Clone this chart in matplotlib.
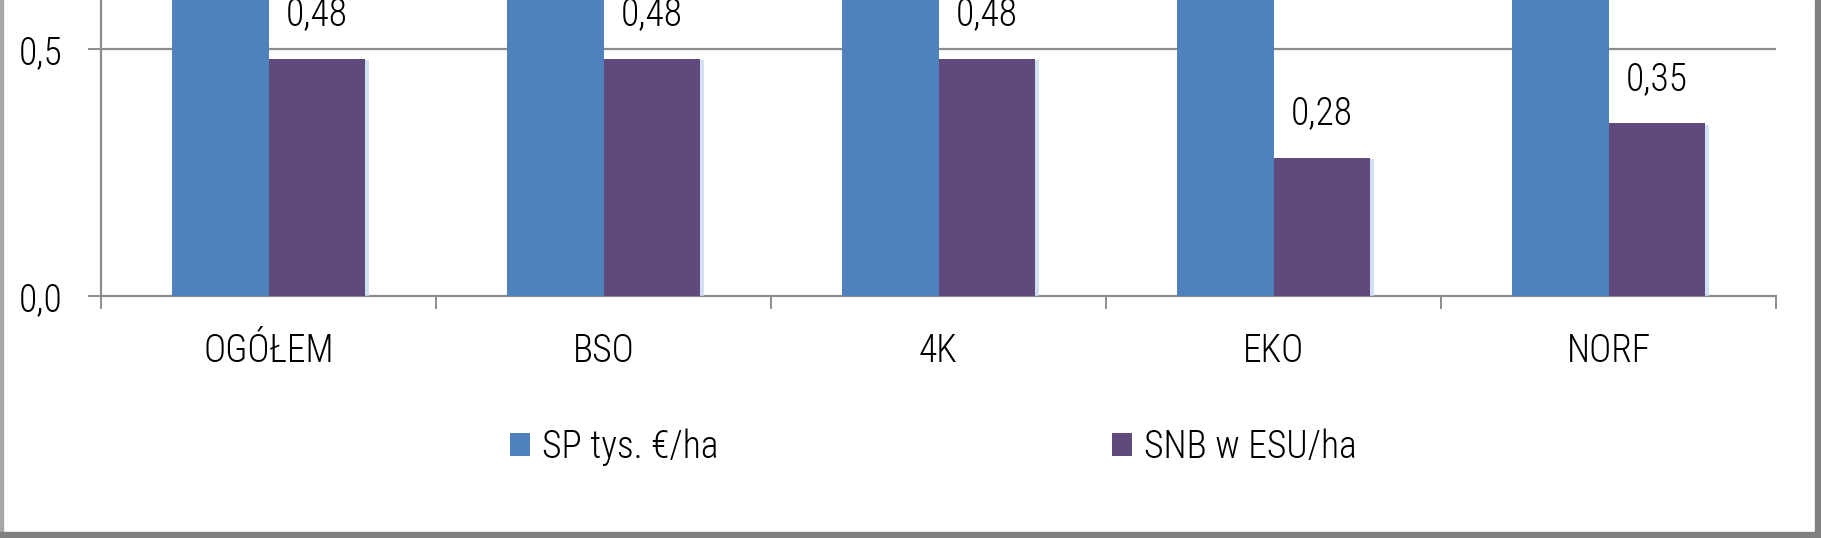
import numpy as np
import matplotlib
matplotlib.use("Agg")
import matplotlib.pyplot as plt
import matplotlib.patheffects as pe
from matplotlib.patches import Rectangle
from matplotlib import font_manager

# data (blue bars run past the top of the cropped picture, so their values are only rough)
categories = ["OGÓŁEM", "BSO", "4K", "EKO", "NORF"]
sp_values = [1.2, 1.2, 1.2, 1.2, 1.2]       # SP tys. €/ha  (cut off)
snb_values = [0.48, 0.48, 0.48, 0.28, 0.35]  # SNB w ESU/ha
series_names = ["SP tys. €/ha", "SNB w ESU/ha"]
y_ticks = [0.0, 0.5]

# pick a narrow face if one is around
fonts = font_manager.fontManager.ttflist
names = {f.name for f in fonts}
stretch = "normal"
fam = "Liberation Sans"
for cand in ["Liberation Sans Narrow", "Arial Narrow", "Roboto Condensed", "Open Sans Condensed"]:
    if cand in names:
        fam = cand
        break
else:
    if any(f.name == "DejaVu Sans" and str(f.stretch) in ("condensed", "semi-condensed") for f in fonts):
        fam = "DejaVu Sans"
        stretch = "condensed"
plt.rcParams['font.family'] = [fam, 'DejaVu Sans']
plt.rcParams['font.stretch'] = stretch
plt.rcParams['font.weight'] = "light"
fs = 27

blue = "#4F81BD"
purple = "#604A7B"
grey = "#8C8C8C"

fig = plt.figure(figsize=(18.21, 5.38), dpi=100)
ax = fig.add_axes([101 / 1821, (538 - 296) / 538, (1776 - 101) / 1821, 296 / 538])

x = np.arange(len(categories))
w = 0.287
b1 = ax.bar(x - w / 2, sp_values, w, color=blue, label=series_names[0], zorder=3)
b2 = ax.bar(x + w / 2, snb_values, w, color=purple, label=series_names[1], zorder=3)

leg = fig.legend(loc="center", bbox_to_anchor=(933 / 1821, 1 - 447 / 538), ncol=2,
                 frameon=False, fontsize=fs, handlelength=0.55, handleheight=0.55,
                 handletextpad=0.3, columnspacing=10.5)

for r in b2:
    r.set_path_effects([pe.SimplePatchShadow(offset=(3, -1), shadow_rgbFace="#C6D9F1", alpha=0.8),
                        pe.Normal()])

for bars, vals in ((b1, sp_values), (b2, snb_values)):
    for r, v in zip(bars, vals):
        ax.annotate(f"{v:.2f}".replace(".", ","), (r.get_x() + r.get_width() / 2, v),
                    xytext=(0, 24), textcoords="offset points", ha="center", va="baseline",
                    fontsize=fs, color="black", annotation_clip=True)

ax.set_xlim(-0.5, len(categories) - 0.5)
ax.set_ylim(0, 0.5993)

ax.set_yticks(y_ticks)
ax.set_yticklabels([f"{t:.1f}".replace(".", ",") for t in y_ticks], fontsize=fs)
ax.tick_params(axis="y", length=9.4, width=1.4, color=grey, pad=18)
for t in y_ticks[1:]:
    ax.axhline(t, color=grey, lw=1.6, zorder=1)

ax.set_xticks(np.arange(len(categories) + 1) - 0.5)
ax.set_xticklabels([])
ax.tick_params(axis="x", which="major", length=9.4, width=1.4, color=grey)
ax.set_xticks(x, minor=True)
ax.set_xticklabels(categories, minor=True, fontsize=fs)
ax.tick_params(axis="x", which="minor", length=0, pad=26)

for s in ["top", "right"]:
    ax.spines[s].set_visible(False)
for s in ["left", "bottom"]:
    ax.spines[s].set_color(grey)
    ax.spines[s].set_linewidth(1.6)

# frame of the cropped picture
fig.patches.append(Rectangle((0, 0), 3 / 1821, 1, transform=fig.transFigure, color="#A6A6A6"))
fig.patches.append(Rectangle((1815 / 1821, 0), 6 / 1821, 1, transform=fig.transFigure, color="#808080"))
fig.patches.append(Rectangle((0, 0), 1, 6 / 538, transform=fig.transFigure, color="#808080"))

fig.savefig("out.png", dpi=100)
